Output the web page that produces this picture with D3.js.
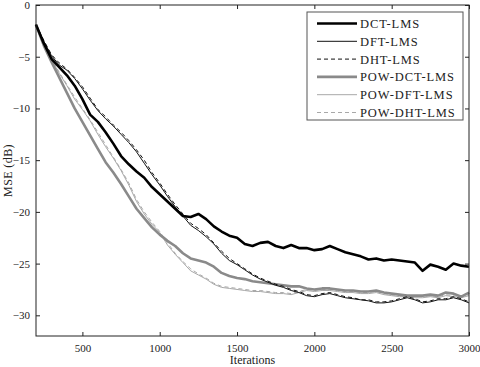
<!DOCTYPE html>
<html>
<head>
<meta charset="utf-8">
<script src="https://cdn.jsdelivr.net/npm/d3@7"></script>
<style>
  body { margin: 0; background: #fff; }
  svg text { font-family: "Liberation Serif", "Times New Roman", serif; fill: #222; }
</style>
</head>
<body>
<script>
// iterations sampled every 50
var iters = d3.range(200, 3001, 50);

var dctLms = [-1.9,-3.7,-5.2,-6.0,-6.8,-7.8,-9.1,-10.6,-11.3,-12.3,-13.4,-14.6,-15.4,-16.1,-16.7,-17.6,-18.3,-19.0,-19.7,-20.4,
  -20.5,-20.2,-20.7,-21.4,-21.9,-22.3,-22.5,-23.1,-23.3,-23.0,-22.9,-23.3,-23.5,-23.2,-23.5,-23.5,-23.7,-23.6,-23.3,-23.6,
  -23.9,-24.1,-24.3,-24.6,-24.5,-24.7,-24.6,-24.7,-24.8,-24.9,-25.7,-25.1,-25.3,-25.6,-25.0,-25.2,-25.3];
var dftLms = [-1.9,-3.5,-4.9,-5.8,-6.3,-7.1,-8.1,-9.2,-10.2,-11.0,-11.7,-12.5,-13.3,-14.2,-15.3,-16.4,-17.4,-18.5,-19.5,-20.4,
  -21.3,-21.8,-22.4,-23.1,-24.0,-24.7,-25.1,-25.6,-26.1,-26.5,-26.8,-27.1,-27.3,-27.6,-27.8,-28.1,-28.2,-28.0,-27.9,-28.1,
  -28.3,-28.4,-28.5,-28.6,-28.8,-28.8,-28.7,-28.5,-28.3,-28.5,-28.8,-28.7,-28.5,-28.5,-28.3,-28.5,-28.8];
var dhtLms = [-1.9,-3.4,-4.8,-5.6,-6.2,-7.0,-7.9,-9.0,-10.1,-10.8,-11.6,-12.3,-13.1,-14.0,-15.0,-16.2,-17.2,-18.3,-19.3,-20.2,
  -21.1,-21.6,-22.2,-23.0,-23.8,-24.5,-25.0,-25.5,-26.0,-26.4,-26.7,-27.0,-27.2,-27.5,-27.7,-28.0,-28.1,-27.9,-27.8,-28.0,
  -28.2,-28.3,-28.5,-28.5,-28.7,-28.7,-28.6,-28.4,-28.2,-28.4,-28.7,-28.6,-28.4,-28.4,-28.2,-28.4,-28.7];
var powDctLms = [-1.9,-3.9,-5.5,-7.0,-8.5,-10.0,-11.3,-12.6,-13.9,-15.2,-16.2,-17.3,-18.5,-19.7,-20.6,-21.5,-22.2,-22.8,-23.3,-24.0,
  -24.5,-24.7,-24.9,-25.3,-25.9,-26.2,-26.4,-26.5,-26.7,-26.8,-26.9,-27.0,-27.1,-27.2,-27.2,-27.4,-27.5,-27.4,-27.4,-27.5,
  -27.6,-27.6,-27.7,-27.7,-27.6,-27.8,-27.9,-28.0,-28.1,-28.1,-28.1,-28.0,-28.1,-27.8,-27.9,-28.2,-27.8];
var powDftLms = [-1.9,-3.8,-5.3,-6.6,-7.8,-9.1,-10.1,-11.2,-12.5,-13.7,-14.8,-16.0,-17.4,-19.0,-20.2,-21.2,-22.0,-23.2,-24.1,-24.9,
  -25.7,-26.1,-26.5,-27.0,-27.3,-27.4,-27.5,-27.6,-27.7,-27.7,-27.8,-27.9,-27.9,-28.0,-27.8,-27.6,-27.7,-27.6,-27.6,-27.7,
  -27.8,-27.8,-27.9,-27.9,-27.8,-28.0,-28.1,-28.2,-28.2,-28.3,-28.3,-28.2,-28.3,-28.1,-28.2,-28.3,-28.1];
var powDhtLms = [-1.9,-3.7,-5.2,-6.5,-7.7,-8.9,-10.0,-11.1,-12.3,-13.5,-14.7,-15.9,-17.2,-18.8,-20.0,-21.0,-21.9,-23.0,-24.0,-24.8,
  -25.5,-26.0,-26.4,-26.9,-27.2,-27.3,-27.4,-27.5,-27.6,-27.6,-27.7,-27.8,-27.8,-27.9,-27.7,-27.5,-27.6,-27.5,-27.5,-27.6,
  -27.7,-27.7,-27.8,-27.8,-27.7,-27.9,-28.0,-28.1,-28.1,-28.2,-28.2,-28.1,-28.2,-28.0,-28.1,-28.2,-28.0];

var seriesNames = ["DCT-LMS","DFT-LMS","DHT-LMS","POW-DCT-LMS","POW-DFT-LMS","POW-DHT-LMS"];
var seriesValues = [dctLms, dftLms, dhtLms, powDctLms, powDftLms, powDhtLms];
var seriesStyle = [
  {color: "#000", width: 2.6, dash: null},
  {color: "#111", width: 1, dash: null},
  {color: "#111", width: 1, dash: "4,3"},
  {color: "#8a8a8a", width: 2.6, dash: null},
  {color: "#a8a8a8", width: 1, dash: null},
  {color: "#a8a8a8", width: 1, dash: "4,3"}
];

var xTicks = [500,1000,1500,2000,2500,3000];
var yTicks = [0,-5,-10,-15,-20,-25,-30];

var margin = {top: 5, right: 11, bottom: 31, left: 36};
var W = 480, H = 367;
var width = W - margin.left - margin.right,
    height = H - margin.top - margin.bottom;
var serif = "'Liberation Serif', 'Times New Roman', serif";

var svg = d3.select("body").append("svg")
    .attr("width", W)
    .attr("height", H);

var g = svg.append("g")
    .attr("transform", "translate(" + margin.left + "," + margin.top + ")");

var x = d3.scaleLinear().domain([200, 3000]).range([0, width]);
var y = d3.scaleLinear().domain([-32, 0]).range([height, 0]);

var line = d3.line()
    .x(function(d, i) { return x(iters[i]); })
    .y(function(d) { return y(d); });

// draw light lines first so the dark ones sit on top
var order = [4,5,3,1,2,0];
order.forEach(function(k) {
  var st = seriesStyle[k];
  g.append("path")
    .datum(seriesValues[k])
    .attr("d", line)
    .style("fill", "none")
    .style("stroke", st.color)
    .style("stroke-width", st.width)
    .style("stroke-linejoin", "round")
    .style("stroke-dasharray", st.dash);
});

// axes, matlab style: ticks pointing inward on all sides
var tickLen = 4;
var fmt = d3.format("d");
var xb = g.append("g")
    .attr("transform", "translate(0," + height + ")")
    .call(d3.axisBottom(x).tickValues(xTicks).tickSize(-tickLen).tickPadding(8).tickFormat(fmt));
var xt = g.append("g")
    .call(d3.axisTop(x).tickValues(xTicks).tickSize(-tickLen).tickFormat(""));
var yl = g.append("g")
    .call(d3.axisLeft(y).tickValues(yTicks).tickSize(-tickLen).tickPadding(6).tickFormat(fmt));
var yr = g.append("g")
    .attr("transform", "translate(" + width + ",0)")
    .call(d3.axisRight(y).tickValues(yTicks).tickSize(-tickLen).tickFormat(""));

[xb, xt, yl, yr].forEach(function(a) {
  a.attr("font-family", serif).attr("font-size", 11);
  a.select(".domain").remove();
  a.selectAll("line").style("stroke", "#222");
  a.selectAll("text").style("fill", "#222");
});

g.append("rect")
    .attr("width", width)
    .attr("height", height)
    .style("fill", "none")
    .style("stroke", "#222")
    .style("stroke-width", 1);

// axis titles
svg.append("text")
    .attr("x", margin.left + width / 2)
    .attr("y", 364)
    .attr("text-anchor", "middle")
    .style("font-size", "12px")
    .text("Iterations");

svg.append("text")
    .attr("transform", "translate(12," + (margin.top + height / 2) + ") rotate(-90)")
    .attr("text-anchor", "middle")
    .style("font-size", "12px")
    .style("letter-spacing", "0.4px")
    .text("MSE (dB)");

// legend
var legend = svg.append("g").attr("transform", "translate(307,12)");
legend.append("rect")
    .attr("width", 156)
    .attr("height", 108)
    .style("fill", "#fff")
    .style("stroke", "#555")
    .style("stroke-width", 1);

seriesNames.forEach(function(name, i) {
  var st = seriesStyle[i];
  var ly = 11.5 + i * 17.8;
  legend.append("line")
    .attr("x1", 10).attr("x2", 50)
    .attr("y1", ly).attr("y2", ly)
    .style("stroke", st.color)
    .style("stroke-width", st.width)
    .style("stroke-dasharray", st.dash);
  legend.append("text")
    .attr("x", 53)
    .attr("y", ly + 4.5)
    .style("font-size", "12.5px")
    .style("letter-spacing", "0.9px")
    .text(name);
});
</script>
</body>
</html>
